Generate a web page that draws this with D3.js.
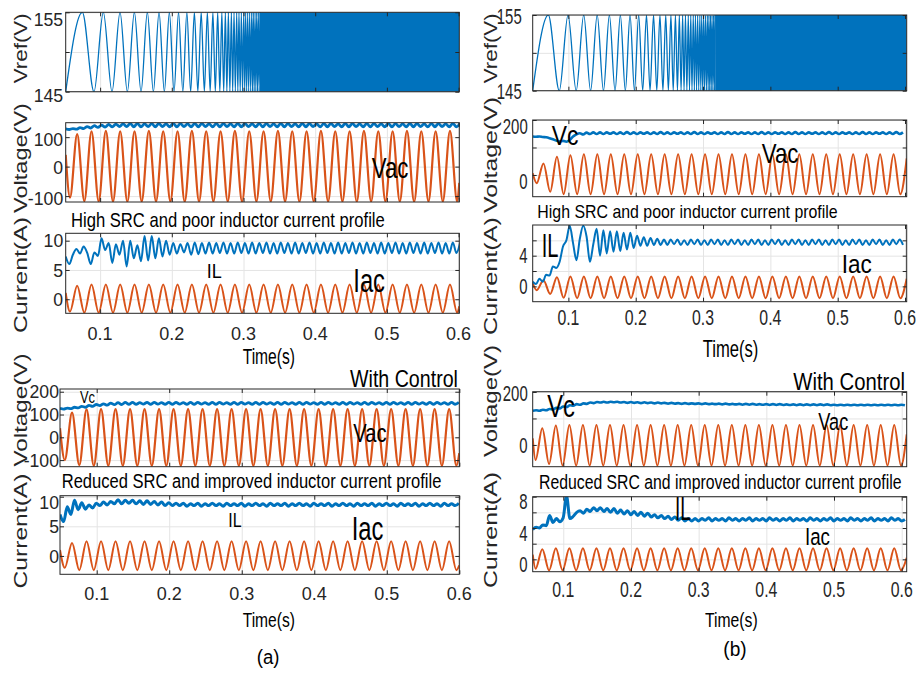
<!DOCTYPE html>
<html><head><meta charset="utf-8">
<script src="https://cdn.jsdelivr.net/npm/d3@7"></script>
<style>
body{margin:0;background:#fff}
svg{display:block}
text{font-family:"Liberation Sans",Arial,Helvetica,sans-serif}
</style>
</head><body>
<script>
// ---------------- data ----------------
const HALF = 0.01;   // spacing of extrema of the 50 Hz waves (s)
const RIP = 0.005;   // spacing of ripple extrema (s)
const xTicks = [0.1, 0.2, 0.3, 0.4, 0.5, 0.6];
const xTickText = ["0.1", "0.2", "0.3", "0.4", "0.5", "0.6"];

// Vref sweep: times of successive extrema after the start of the sweep (s)
const vrefLow = 145, vrefHigh = 155;
const vrefSweep = [0, 0.0232, 0.0395, 0.0525, 0.0646, 0.0758, 0.0860, 0.0958, 0.1051, 0.1139,
  0.1223, 0.1302, 0.1376, 0.1446, 0.1511, 0.1574, 0.1634, 0.1690, 0.1743, 0.1795,
  0.1843, 0.1890, 0.1934, 0.1976, 0.2015, 0.2053, 0.2087, 0.2120, 0.2150, 0.2178,
  0.2204, 0.2227, 0.2248, 0.2269, 0.2290, 0.2311, 0.2329, 0.2348, 0.2366, 0.2385,
  0.2401, 0.2417, 0.2434, 0.2450, 0.2466, 0.2483, 0.2497, 0.2510, 0.2524, 0.2538,
  0.2552, 0.2566, 0.2580, 0.2594, 0.2606, 0.2617, 0.2629, 0.2641, 0.2652, 0.2664,
  0.2676, 0.2687, 0.2699, 0.2710];
const sweepStartA = 0.052, sweepStartB = 0.047;

// (a) without control: grid voltage extrema, capacitor voltage, inductor and grid currents
const vacA = { start: 40, t0: 0.058, end: -55, ext: [
  -105, 110, -117, 120, -118, 121, -118, 120, -119, 120,
  -118, 121, -118, 120, -118, 120, -119, 121, -118, 120,
  -118, 120, -118, 121, -119, 120, -118, 120, -118, 121,
  -118, 120, -119, 120, -118, 121, -118, 120, -118, 120,
  -119, 121, -118, 120, -118, 120, -118, 121, -119, 120,
  -118, 120, -118, 121, -118] };
const vcA = { t0: 0.052, v: [
  128, 126, 129, 127, 132, 129, 136, 131, 139, 133,
  141, 134, 143, 135, 144, 136, 145, 136, 146, 135,
  146, 135, 145, 136, 146, 135, 146, 136, 145, 135,
  146, 135, 146, 136, 145, 135, 146, 135, 146, 136,
  145, 135, 146, 135, 146, 136, 145, 135, 146, 135,
  146, 136, 145, 135, 146, 135, 146, 136, 145, 135,
  146, 135, 146, 136, 145, 135, 146, 135, 146, 136,
  145, 135, 146, 135, 146, 136, 145, 135, 146, 135,
  146, 136, 145, 135, 146, 135, 146, 136, 145, 135,
  146, 135, 146, 136, 145, 135, 146, 135, 146, 136,
  145, 135, 146, 135, 146, 136, 145, 135, 146, 135,
  146] };
const iacA = { start: 1.1, t0: 0.058, end: -1.2, ext: [
  -2.1, 2.3, -2.3, 2.5, -2.3, 2.5, -2.3, 2.5, -2.3, 2.5,
  -2.3, 2.5, -2.3, 2.5, -2.3, 2.5, -2.3, 2.5, -2.3, 2.5,
  -2.3, 2.5, -2.3, 2.5, -2.3, 2.5, -2.3, 2.5, -2.3, 2.5,
  -2.3, 2.5, -2.3, 2.5, -2.3, 2.5, -2.3, 2.5, -2.3, 2.5,
  -2.3, 2.5, -2.3, 2.5, -2.3, 2.5, -2.3, 2.5, -2.3, 2.5,
  -2.3, 2.5, -2.3, 2.5, -2.3] };
const ilA = { t0: 0.052, v: [
  7.3, 6.0, 7.6, 8.6, 7.8, 9.0, 7.9, 6.0, 8.0, 7.4,
  10.4, 8.4, 9.6, 6.2, 9.4, 7.6, 10.0, 5.6, 10.0, 7.0,
  9.2, 6.5, 10.8, 6.6, 10.8, 7.0, 10.4, 7.3, 10.0, 7.6,
  9.6, 7.8, 9.4, 8.0, 9.6, 7.6, 9.7, 7.7, 9.6, 7.8,
  9.7, 7.8, 9.6, 7.9, 9.7, 7.8, 9.6, 7.8, 9.7, 7.9,
  9.6, 7.8, 9.7, 7.8, 9.6, 7.9, 9.7, 7.8, 9.6, 7.8,
  9.7, 7.9, 9.6, 7.8, 9.7, 7.8, 9.6, 7.9, 9.7, 7.8,
  9.6, 7.8, 9.7, 7.9, 9.6, 7.8, 9.7, 7.8, 9.6, 7.9,
  9.7, 7.8, 9.6, 7.8, 9.7, 7.9, 9.6, 7.8, 9.7, 7.8,
  9.6, 7.9, 9.7, 7.8, 9.6, 7.8, 9.7, 7.9, 9.6, 7.8,
  9.7, 7.8, 9.6, 7.9, 9.7, 7.8, 9.6, 7.8, 9.7, 7.9,
  9.6] };

// (a) with control
const vacA2 = { start: 40, t0: 0.056, end: -70, ext: [
  -100, 108, -122, 123, -125, 124, -125, 124, -125, 124,
  -125, 124, -125, 124, -125, 124, -125, 124, -125, 124,
  -125, 124, -125, 124, -125, 124, -125, 124, -125, 124,
  -125, 124, -125, 124, -125, 124, -125, 124, -125, 124,
  -125, 124, -125, 124, -125, 124, -125, 124, -125, 124,
  -125, 124, -125, 124, -125] };
const vcA2 = { t0: 0.0494, v: [
  127, 124, 128, 126, 132, 129, 136, 132, 140, 136,
  144, 139, 147, 141, 150, 143, 152, 144, 153, 145,
  153, 145, 152, 146, 153, 145, 153, 146, 152, 145,
  153, 145, 153, 146, 152, 145, 153, 145, 153, 146,
  152, 145, 153, 145, 153, 146, 152, 145, 153, 145,
  153, 146, 152, 145, 153, 145, 153, 146, 152, 145,
  153, 145, 153, 146, 152, 145, 153, 145, 153, 146,
  152, 145, 153, 145, 153, 146, 152, 145, 153, 145,
  153, 146, 152, 145, 153, 145, 153, 146, 152, 145,
  153, 145, 153, 146, 152, 145, 153, 145, 153, 146,
  152, 145, 153, 145, 153, 146, 152, 145, 153, 145,
  153] };
const iacA2 = { start: 1.0, t0: 0.056, end: -1.6, ext: [
  -2.0, 2.2, -2.4, 2.5, -2.4, 2.5, -2.4, 2.5, -2.4, 2.5,
  -2.4, 2.5, -2.4, 2.5, -2.4, 2.5, -2.4, 2.5, -2.4, 2.5,
  -2.4, 2.5, -2.4, 2.5, -2.4, 2.5, -2.4, 2.5, -2.4, 2.5,
  -2.4, 2.5, -2.4, 2.5, -2.4, 2.5, -2.4, 2.5, -2.4, 2.5,
  -2.4, 2.5, -2.4, 2.5, -2.4, 2.5, -2.4, 2.5, -2.4, 2.5,
  -2.4, 2.5, -2.4, 2.5, -2.4] };
const ilA2 = { t0: 0.0494, v: [
  7.0, 5.8, 8.3, 7.0, 9.4, 7.8, 9.0, 7.9, 8.6, 8.1,
  8.9, 8.5, 9.1, 8.6, 9.2, 8.8, 9.5, 8.8, 9.4, 8.9,
  9.4, 8.8, 9.3, 8.7, 9.3, 8.7, 9.2, 8.6, 9.1, 8.5,
  9.0, 8.5, 8.9, 8.5, 8.9, 8.4, 8.8, 8.5, 8.9, 8.4,
  8.8, 8.5, 8.9, 8.5, 8.8, 8.4, 8.9, 8.5, 8.8, 8.5,
  8.9, 8.4, 8.8, 8.5, 8.9, 8.5, 8.8, 8.4, 8.9, 8.5,
  8.8, 8.5, 8.9, 8.4, 8.8, 8.5, 8.9, 8.5, 8.8, 8.4,
  8.9, 8.5, 8.8, 8.5, 8.9, 8.4, 8.8, 8.5, 8.9, 8.5,
  8.8, 8.4, 8.9, 8.5, 8.8, 8.5, 8.9, 8.4, 8.8, 8.5,
  8.9, 8.5, 8.8, 8.4, 8.9, 8.5, 8.8, 8.5, 8.9, 8.4,
  8.8, 8.5, 8.9, 8.5, 8.8, 8.4, 8.9, 8.5, 8.8, 8.5,
  8.9] };

// (b) without control
const vacB = { start: 6, t0: 0.053, end: 60, ext: [
  -30, 42, -61, 66, -70, 72, -70, 75, -70, 75,
  -70, 75, -70, 75, -70, 75, -70, 75, -70, 75,
  -70, 75, -70, 75, -70, 75, -70, 75, -70, 75,
  -70, 75, -70, 75, -70, 75, -70, 75, -70, 75,
  -70, 75, -70, 75, -70, 75, -70, 75, -70, 75,
  -70, 75, -70, 75, -70] };
const vcB = { t0: 0.047, v: [
  140, 139, 140, 138, 137, 134, 130, 125, 122, 124,
  121, 127, 140, 148, 152, 147, 154, 149, 155, 149,
  155, 149, 155, 150, 155, 149, 155, 149, 156, 149,
  155, 149, 155, 150, 155, 149, 155, 149, 156, 149,
  155, 149, 155, 150, 155, 149, 155, 149, 156, 149,
  155, 149, 155, 150, 155, 149, 155, 149, 156, 149,
  155, 149, 155, 150, 155, 149, 155, 149, 156, 149,
  155, 149, 155, 150, 155, 149, 155, 149, 156, 149,
  155, 149, 155, 150, 155, 149, 155, 149, 156, 149,
  155, 149, 155, 150, 155, 149, 155, 149, 156, 149,
  155, 149, 155, 150, 155, 149, 155, 149, 156, 149,
  155] };
const iacB = { start: 0.4, t0: 0.053, end: 1.0, ext: [
  -0.5, 0.8, -1.0, 1.2, -1.5, 1.3, -1.55, 1.3, -1.55, 1.3,
  -1.55, 1.3, -1.55, 1.3, -1.55, 1.3, -1.55, 1.3, -1.55, 1.3,
  -1.55, 1.3, -1.55, 1.3, -1.55, 1.3, -1.55, 1.3, -1.55, 1.3,
  -1.55, 1.3, -1.55, 1.3, -1.55, 1.3, -1.55, 1.3, -1.55, 1.3,
  -1.55, 1.3, -1.55, 1.3, -1.55, 1.3, -1.55, 1.3, -1.55, 1.3,
  -1.55, 1.3, -1.55, 1.3, -1.55] };
const ilB = { t0: 0.047, v: [
  0.6, 0.3, 1.0, 0.6, 1.5, 1.4, 2.6, 2.4, 3.2, 5.2,
  6.0, 7.9, 5.6, 3.4, 6.2, 7.9, 6.5, 3.2, 5.5, 7.5,
  4.0, 7.3, 4.3, 7.2, 4.5, 7.2, 4.6, 7.0, 4.8, 7.0,
  5.0, 6.6, 5.3, 6.4, 5.3, 6.3, 5.4, 6.2, 5.4, 6.1,
  5.4, 6.1, 5.5, 6.1, 5.4, 6.0, 5.4, 6.1, 5.5, 6.1,
  5.4, 6.0, 5.4, 6.1, 5.5, 6.1, 5.4, 6.0, 5.4, 6.1,
  5.5, 6.1, 5.4, 6.0, 5.4, 6.1, 5.5, 6.1, 5.4, 6.0,
  5.4, 6.1, 5.5, 6.1, 5.4, 6.0, 5.4, 6.1, 5.5, 6.1,
  5.4, 6.0, 5.4, 6.1, 5.5, 6.1, 5.4, 6.0, 5.4, 6.1,
  5.5, 6.1, 5.4, 6.0, 5.4, 6.1, 5.5, 6.1, 5.4, 6.0,
  5.4, 6.1, 5.5, 6.1, 5.4, 6.0, 5.4, 6.1, 5.5, 6.1,
  5.4] };

// (b) with control
const vacB2 = { start: 25, t0: 0.059, end: 40, ext: [
  -57, 63, -72, 73, -78, 75, -78, 75, -78, 75,
  -78, 75, -78, 75, -78, 75, -78, 75, -78, 75,
  -78, 75, -78, 75, -78, 75, -78, 75, -78, 75,
  -78, 75, -78, 75, -78, 75, -78, 75, -78, 75,
  -78, 75, -78, 75, -78, 75, -78, 75, -78, 75,
  -78, 75, -78, 75, -78] };
const vcB2 = { t0: 0.0548, v: [
  129, 131, 129, 133, 131, 136, 134, 140, 138, 145,
  143, 150, 148, 154, 152, 157, 155, 160, 158, 162,
  160, 163, 160, 163, 161, 163, 160, 162, 159, 162,
  159, 161, 158, 161, 158, 160, 157, 160, 157, 159,
  156, 159, 156, 158, 155, 158, 155, 157, 155, 157,
  154, 157, 154, 156, 154, 156, 153, 156, 153, 155,
  153, 155, 152, 155, 152, 155, 152, 154, 152, 154,
  151, 154, 151, 154, 151, 153, 151, 153, 150, 153,
  150, 153, 150, 153, 150, 153, 150, 153, 150, 152,
  150, 152, 150, 152, 150, 152, 150, 152, 150, 152,
  150, 152, 150, 152, 150, 152, 150, 152, 150, 152,
  150] };
const iacB2 = { start: 0.6, t0: 0.059, end: 0.2, ext: [
  -1.2, 1.3, -1.4, 1.4, -1.4, 1.4, -1.4, 1.4, -1.4, 1.4,
  -1.4, 1.4, -1.4, 1.4, -1.4, 1.4, -1.4, 1.4, -1.4, 1.4,
  -1.4, 1.4, -1.4, 1.4, -1.4, 1.4, -1.4, 1.4, -1.4, 1.4,
  -1.4, 1.4, -1.4, 1.4, -1.4, 1.4, -1.4, 1.4, -1.4, 1.4,
  -1.4, 1.4, -1.4, 1.4, -1.4, 1.4, -1.4, 1.4, -1.4, 1.4,
  -1.4, 1.4, -1.4, 1.4, -1.4] };
const ilB2 = { t0: 0.0548, v: [
  3.8, 4.1, 4.0, 4.4, 4.3, 5.6, 4.7, 5.2, 4.8, 5.3,
  8.1, 5.2, 5.5, 6.0, 6.2, 5.9, 6.4, 6.1, 6.6, 6.2,
  6.6, 6.1, 6.5, 6.0, 6.5, 5.9, 6.3, 5.8, 6.2, 5.7,
  6.1, 5.6, 6.0, 5.5, 5.9, 5.4, 5.7, 5.3, 5.6, 5.2,
  5.5, 5.1, 5.4, 5.0, 5.3, 4.9, 5.2, 4.9, 5.2, 4.9,
  5.2, 5.0, 5.3, 4.9, 5.2, 5.0, 5.2, 4.9, 5.3, 5.0,
  5.2, 4.9, 5.2, 5.0, 5.3, 4.9, 5.2, 5.0, 5.2, 4.9,
  5.3, 5.0, 5.2, 4.9, 5.2, 5.0, 5.3, 4.9, 5.2, 5.0,
  5.2, 4.9, 5.3, 5.0, 5.2, 4.9, 5.2, 5.0, 5.3, 4.9,
  5.2, 5.0, 5.2, 4.9, 5.3, 5.0, 5.2, 4.9, 5.2, 5.0,
  5.3, 4.9, 5.2, 5.0, 5.2, 4.9, 5.3, 5.0, 5.2, 4.9,
  5.1] };

// ---------------- drawing ----------------
const BLUE = "#0072BD", ORANGE = "#D95319", AXIS = "#262626", GRID = "#e4e4e4";
const svg = d3.select("body").append("svg").attr("width", 921).attr("height", 678);

const colStyle = {
  L: { fs: 19, sx: 0.93, pad: 2.5, xfs: 18.6, xsx: 0.97 },
  R: { fs: 22, sx: 0.68, pad: 5, xfs: 22, xsx: 0.72 }
};

const panels = {
  a1: { col: "L", left: 65.7, right: 459.3, top: 12.3, bottom: 91.7, xd: [0.052, 0.601], yd: [145, 155], grid: [145, 150, 155], labels: [[155, 7], [145, 4]] },
  a2: { col: "L", left: 65.7, right: 459.3, top: 122.7, bottom: 202, xd: [0.052, 0.601], yd: [-120, 149], grid: [-100, 0, 100], labels: [[100, 2], [0, 1], [-100, 2]] },
  a3: { col: "L", left: 65.7, right: 459.3, top: 233.3, bottom: 313.3, xd: [0.052, 0.601], yd: [-2.4, 11.26], grid: [0, 5, 10], labels: [[10, 0], [5, 0], [0, 0]], xlab: 26.5 },
  a4: { col: "L", left: 60, right: 459.3, top: 389, bottom: 466.7, xd: [0.0494, 0.6], yd: [-129, 212], grid: [-100, 0, 100, 200], labels: [[200, 0], [100, 0], [0, 0], [-100, 0]], pad: 1 },
  a5: { col: "L", left: 60, right: 459.3, top: 495.7, bottom: 574.3, xd: [0.0494, 0.6], yd: [-3.1, 10.17], grid: [0, 5, 10], labels: [[10, 6], [5, 0], [0, 0]], pad: 1, xlab: 25.7 },
  b1: { col: "R", left: 532.7, right: 906.7, top: 15, bottom: 90.7, xd: [0.047, 0.6025], yd: [145, 155], grid: [145, 150, 155], labels: [[155, 1], [145, 0]], pad: 11 },
  b2: { col: "R", left: 532.7, right: 906.7, top: 120, bottom: 196.7, xd: [0.047, 0.6025], yd: [-79, 200], grid: [0, 100, 200], labels: [[200, 6], [0, 6]] },
  b3: { col: "R", left: 532.7, right: 906.7, top: 225, bottom: 301.7, xd: [0.047, 0.6025], yd: [-2, 8], grid: [0, 2, 4, 6], labels: [[4, 0], [0, 0]], xlab: 23.3 },
  b4: { col: "R", left: 532.7, right: 906.7, top: 391.7, bottom: 466.7, xd: [0.0548, 0.6074], yd: [-82, 201], grid: [0, 100, 200], labels: [[200, 1], [0, 0]] },
  b5: { col: "R", left: 532.7, right: 906.7, top: 496.7, bottom: 571.7, xd: [0.0548, 0.6074], yd: [-1.58, 8], grid: [0, 2, 4, 6, 8], labels: [[8, 4], [4, 5], [0, 5]], xlab: 25 }
};

function scaledText(str, x, y, fs, sx, anchor, fill) {
  return svg.append("text")
    .attr("transform", `translate(${x},${y}) scale(${sx},1)`)
    .attr("text-anchor", anchor).attr("font-size", fs).attr("fill", fill).text(str);
}

function setupPanel(key) {
  const p = panels[key];
  const w = p.right - p.left, h = p.bottom - p.top;
  p.x = d3.scaleLinear().domain(p.xd).range([p.left, p.right]);
  p.y = d3.scaleLinear().domain(p.yd).range([p.bottom, p.top]);
  const g = svg.append("g");
  svg.append("clipPath").attr("id", "clip-" + key).append("rect")
    .attr("x", p.left).attr("y", p.top).attr("width", w).attr("height", h);
  // grid
  g.append("g").attr("transform", `translate(${p.left},0)`)
    .call(d3.axisLeft(p.y).tickValues(p.grid).tickSize(-w).tickFormat(""))
    .call(s => { s.select(".domain").remove(); s.selectAll("line").attr("stroke", GRID); });
  g.append("g").attr("transform", `translate(0,${p.bottom})`)
    .call(d3.axisBottom(p.x).tickValues(xTicks).tickSize(-h).tickFormat(""))
    .call(s => { s.select(".domain").remove(); s.selectAll("line").attr("stroke", GRID); });
  p.plot = g.append("g").attr("clip-path", `url(#clip-${key})`);
  p.g = g;
  return p;
}

function finishPanel(key) {
  const p = panels[key];
  const w = p.right - p.left, h = p.bottom - p.top;
  const st = colStyle[p.col];
  const tick = s => { s.select(".domain").remove(); s.selectAll("line").attr("stroke", AXIS); };
  svg.append("g").attr("transform", `translate(${p.left},0)`)
    .call(d3.axisLeft(p.y).tickValues(p.grid).tickSize(-4).tickFormat("")).call(tick);
  svg.append("g").attr("transform", `translate(${p.right},0)`)
    .call(d3.axisRight(p.y).tickValues(p.grid).tickSize(-4).tickFormat("")).call(tick);
  svg.append("g").attr("transform", `translate(0,${p.bottom})`)
    .call(d3.axisBottom(p.x).tickValues(xTicks).tickSize(-4).tickFormat("")).call(tick);
  svg.append("g").attr("transform", `translate(0,${p.top})`)
    .call(d3.axisTop(p.x).tickValues(xTicks).tickSize(-4).tickFormat("")).call(tick);
  svg.append("rect").attr("x", p.left).attr("y", p.top).attr("width", w).attr("height", h)
    .attr("fill", "none").attr("stroke", AXIS).attr("stroke-width", 1);
  const pad = p.pad !== undefined ? p.pad : st.pad;
  p.labels.forEach(([v, dy]) => {
    scaledText(String(v), p.left - pad, p.y(v) + dy + 0.355 * st.fs, st.fs, st.sx, "end", AXIS);
  });
  if (p.xlab) {
    xTicks.forEach((t, i) => {
      scaledText(xTickText[i], p.x(t), p.bottom + p.xlab, st.xfs, st.xsx, "middle", AXIS);
    });
  }
}

const lineGen = (p) => d3.line().x(d => p.x(d[0])).y(d => p.y(d[1])).curve(d3.curveMonotoneX);

function acPoints(p, s) {
  const [a, b] = p.x.domain();
  const pts = [[a, s.start]];
  s.ext.forEach((v, i) => pts.push([s.t0 + i * HALF, v]));
  const last = pts[pts.length - 1][0];
  if (b > last + 1e-4) pts.push([b, s.end]);
  return pts;
}
function ripplePoints(s) {
  return s.v.map((v, i) => [s.t0 + i * RIP, v]);
}
function drawLine(p, pts, color, width) {
  p.plot.append("path").datum(pts).attr("d", lineGen(p)).attr("fill", "none")
    .attr("stroke", color).attr("stroke-width", width).attr("stroke-linejoin", "round");
}
function drawSweep(p, start) {
  const pts = vrefSweep.map((t, i) => [start + t, i % 2 ? vrefHigh : vrefLow]);
  drawLine(p, pts, BLUE, 1.3);
  const tEnd = start + vrefSweep[vrefSweep.length - 1];
  // the sweep is too fast to resolve past this point: draw its envelope
  p.plot.append("rect")
    .attr("x", p.x(tEnd)).attr("width", p.x(p.x.domain()[1]) - p.x(tEnd))
    .attr("y", p.y(vrefHigh)).attr("height", p.y(vrefLow) - p.y(vrefHigh))
    .attr("fill", BLUE);
}

Object.keys(panels).forEach(setupPanel);
const P = panels;

drawSweep(P.a1, sweepStartA);
drawLine(P.a2, acPoints(P.a2, vacA), ORANGE, 2.2);
drawLine(P.a2, ripplePoints(vcA), BLUE, 2.8);
drawLine(P.a3, acPoints(P.a3, iacA), ORANGE, 2);
drawLine(P.a3, ripplePoints(ilA), BLUE, 2);
drawLine(P.a4, acPoints(P.a4, vacA2), ORANGE, 2.2);
drawLine(P.a4, ripplePoints(vcA2), BLUE, 2.8);
drawLine(P.a5, acPoints(P.a5, iacA2), ORANGE, 2);
drawLine(P.a5, ripplePoints(ilA2), BLUE, 3);

drawSweep(P.b1, sweepStartB);
drawLine(P.b2, acPoints(P.b2, vacB), ORANGE, 2);
drawLine(P.b2, ripplePoints(vcB), BLUE, 2.6);
drawLine(P.b3, acPoints(P.b3, iacB), ORANGE, 2);
drawLine(P.b3, ripplePoints(ilB), BLUE, 2);
drawLine(P.b4, acPoints(P.b4, vacB2), ORANGE, 2);
drawLine(P.b4, ripplePoints(vcB2), BLUE, 2.6);
drawLine(P.b5, acPoints(P.b5, iacB2), ORANGE, 2);
drawLine(P.b5, ripplePoints(ilB2), BLUE, 3);

Object.keys(panels).forEach(finishPanel);

// ---------------- titles and annotations ----------------
// Each text is set at its font size, then squeezed horizontally to the wanted length.
function fitText(str, x, y, fs, len, rotate) {
  const t = svg.append("text").attr("font-size", fs).attr("fill", "#000")
    .attr("text-anchor", rotate ? "middle" : "start").text(str);
  const natural = t.node().getComputedTextLength();
  const sx = natural > 0 ? len / natural : 1;
  t.attr("transform", rotate
    ? `translate(${x},${y}) rotate(-90) scale(${sx},1)`
    : `translate(${x},${y}) scale(${sx},1)`);
  return t;
}

const axisTitles = [
  ["Vref(V)", 26.5, 48.3, 70], ["Voltage(V)", 26.5, 158, 110], ["Current(A)", 26.5, 275, 116],
  ["Voltage(V)", 26.5, 410, 113], ["Current(A)", 26.5, 531, 115],
  ["Vref(V)", 496.5, 48.3, 70], ["Voltage(V)", 496.5, 155, 116], ["Current(A)", 496.5, 276, 118],
  ["Voltage(V)", 496.5, 401, 112], ["Current(A)", 496.5, 530, 116]
];
axisTitles.forEach(([s, x, y, len]) => fitText(s, x, y, 19, len, true).attr("fill", AXIS));

const notes = [
  ["Vac", 371.7, 178.3, 30, 36.7],
  ["High SRC and poor inductor current profile", 71, 226.7, 21, 314],
  ["IL", 206.7, 278.3, 21, 15],
  ["Iac", 353.3, 291.7, 32.6, 31.7],
  ["Time(s)", 242.7, 364, 22, 52.3],
  ["With Control", 350, 386.7, 23.3, 108],
  ["Vc", 80, 403.3, 16.3, 15],
  ["Vac", 353.3, 441.7, 25.6, 33.3],
  ["Reduced SRC and improved inductor current profile", 61.7, 488.3, 21, 380],
  ["IL", 228.3, 526.7, 21, 13.3],
  ["Iac", 351.7, 540, 32.6, 31.7],
  ["Time(s)", 242.7, 626.7, 21, 52.3],
  ["(a)", 256.7, 664, 19.4, 22.7],
  ["Vc", 551.7, 145, 28, 26.7],
  ["Vac", 761.7, 163.3, 28, 36.7],
  ["High SRC and poor inductor current profile", 537.3, 218.3, 18.6, 300.4],
  ["IL", 541.7, 256.7, 32.6, 16.7],
  ["Iac", 841.7, 273.3, 25.6, 30],
  ["Time(s)", 702.7, 356.7, 23.3, 55.7],
  ["With Control", 793.3, 390, 23.3, 111.7],
  ["Vc", 547.3, 417.3, 31, 27.7],
  ["Vac", 818.3, 430, 23.3, 30],
  ["Reduced SRC and improved inductor current profile", 539, 489.3, 19.5, 362.7],
  ["IL", 675, 520, 32.6, 15.7],
  ["Iac", 805, 545, 23.3, 25],
  ["Time(s)", 705, 626.7, 21, 52.7],
  ["(b)", 723.3, 656, 19.4, 23.3]
];
notes.forEach(([s, x, y, fs, len]) => fitText(s, x, y, fs, len, false));
</script>
</body></html>
